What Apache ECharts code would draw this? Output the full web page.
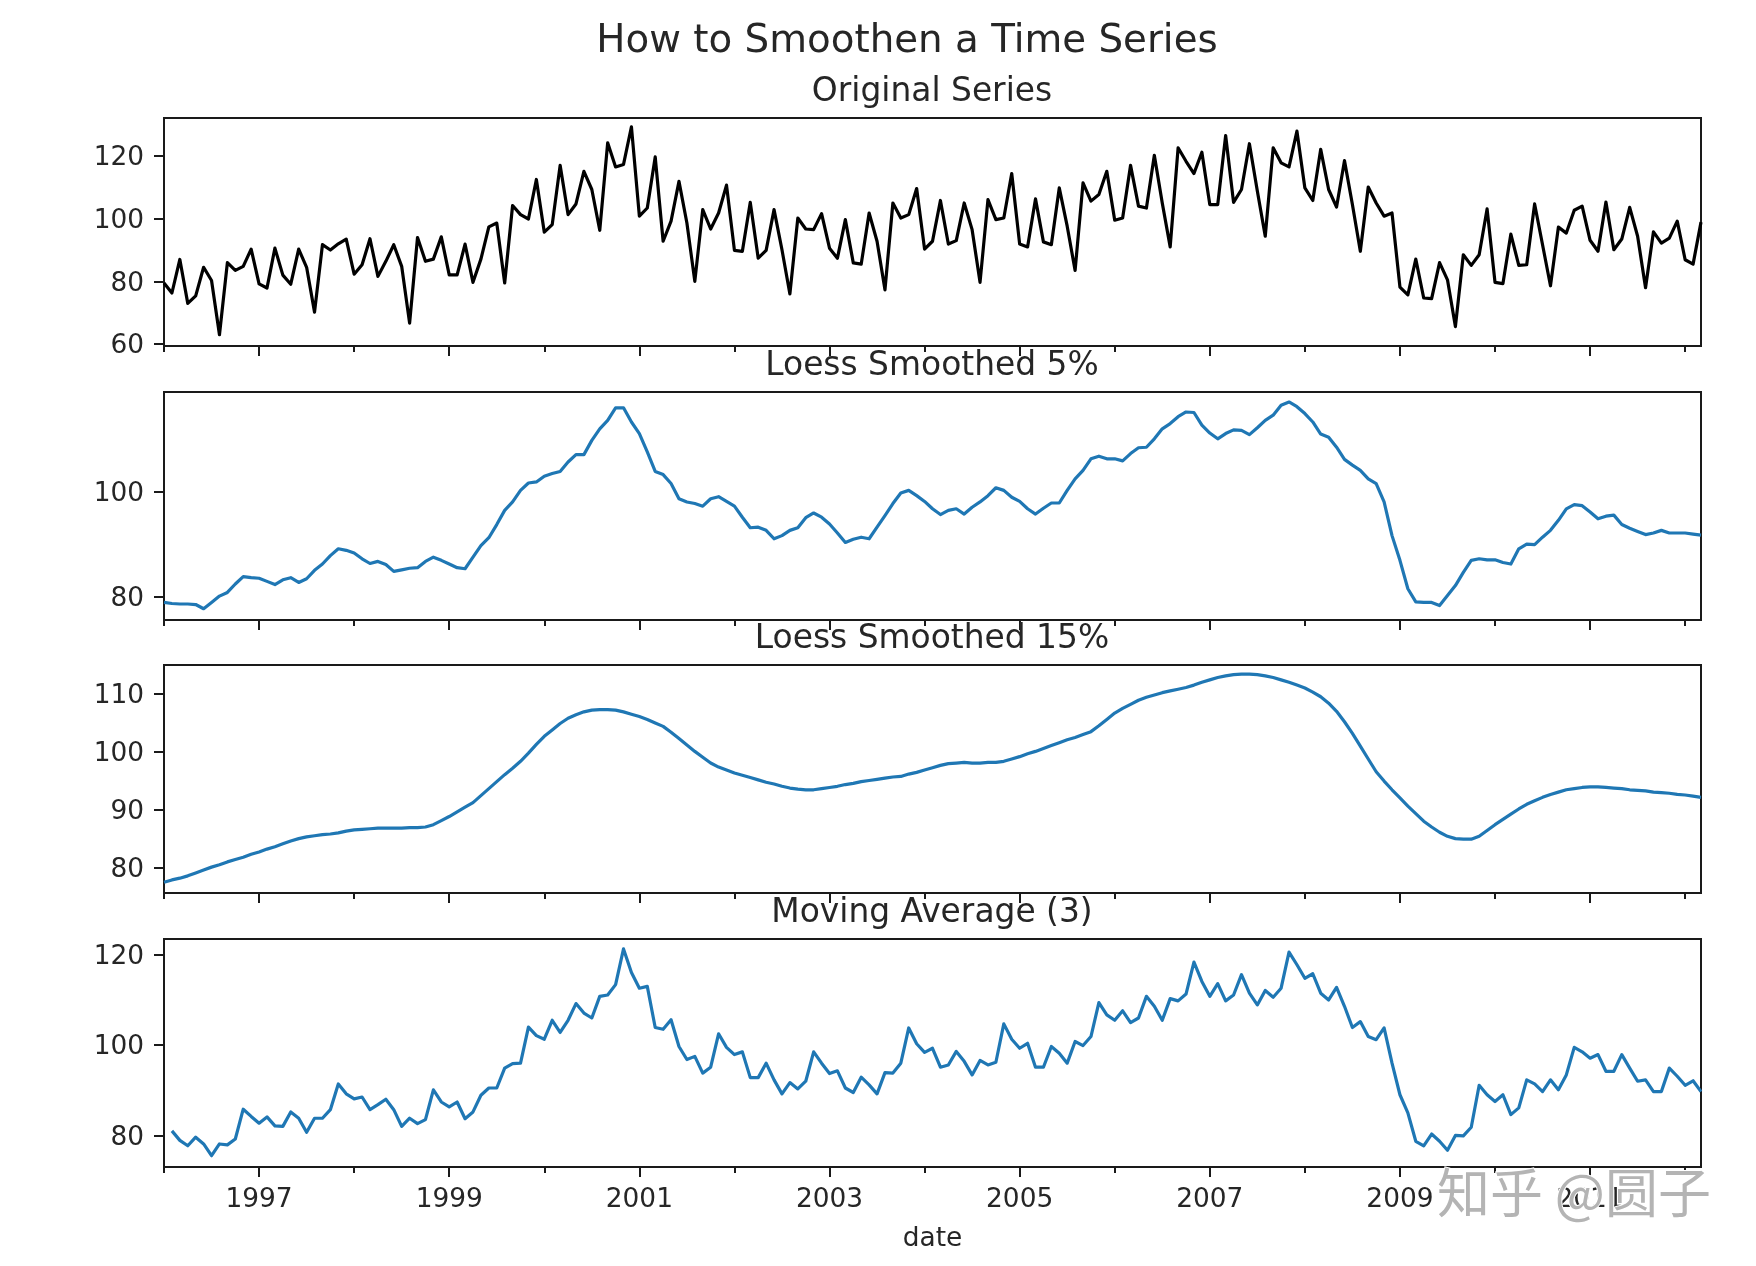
<!DOCTYPE html>
<html>
<head>
<meta charset="utf-8">
<style>
  html, body { margin: 0; padding: 0; background: #fff; }
  #chart { width: 1756px; height: 1266px; }
</style>
<script src="https://cdn.jsdelivr.net/npm/echarts@6/dist/echarts.min.js"></script>
</head>
<body>
<div id="chart"></div>
<script>
// monthly values, one row per year, 1996-01 .. 2012-03
var original = [
  79.5,76.3,87,73,75.4,84.5,80.3,63,86,83.5,84.8,90.3,
  79.2,77.9,90.6,82,79.1,90.3,84.5,70.2,91.7,90,92,93.5,
  82.3,85.3,93.6,81.6,86.4,91.7,84.8,66.7,94,86.4,87.1,94.2,
  82.1,82.1,91.9,79.7,87.1,97.4,98.6,79.5,104.2,101.3,99.9,112.5,
  95.7,98.1,117,101.3,104.7,115.1,109.3,96.3,124.2,116.5,117.3,129.3,
  100.8,103.4,119.7,92.8,99.2,111.9,98.6,80,102.9,96.7,101.8,110.7,
  89.9,89.6,105.2,87.4,89.9,102.9,90.1,76,100.2,96.7,96.5,101.6,
  90.6,87.4,99.7,85.9,85.5,101.8,92.8,77.3,105,100.2,101.3,109.6,
  90.3,92.8,105.8,91.9,93,105,96.5,79.7,106.1,99.7,100.2,114.4,
  91.9,91,106.3,92.6,91.7,109.8,97.6,83.5,111.4,105.6,107.7,115.1,
  99.5,100.2,117,104,103.4,120.2,105,91,122.6,118.3,114.4,121.2,
  104.5,104.5,126.5,105.2,109.3,123.9,108.8,94.4,122.6,117.8,116.5,127.9,
  109.8,105.8,122.1,109.3,103.7,118.5,104.5,89.6,110.1,105,100.8,101.8,
  78.2,75.7,87.1,74.7,74.5,86,80.5,65.6,88.5,85.1,88.5,103.1,
  79.7,79.3,95.1,85.1,85.3,104.7,91.7,78.6,97.3,95.4,102.7,104,
  93.1,89.6,105.3,90.1,93.5,103.6,94.4,78,95.8,92.2,93.8,99.2,
  86.9,85.5,98.9
];
var loess5 = [
  78.9,78.7,78.6,78.6,78.5,77.7,78.9,80.1,80.8,82.4,83.8,83.6,
  83.5,82.9,82.3,83.2,83.6,82.7,83.4,85,86.2,87.8,89.1,88.8,
  88.3,87.2,86.3,86.7,86.1,84.8,85.1,85.4,85.5,86.7,87.5,86.9,
  86.2,85.5,85.3,87.5,89.7,91.2,93.7,96.4,98,100.2,101.6,101.8,
  102.9,103.4,103.8,105.6,107,107,109.7,111.9,113.5,115.9,115.9,113.2,
  111,107.5,103.8,103.2,101.5,98.6,98,97.7,97.2,98.6,99,98.1,
  97.2,95.1,93.1,93.2,92.6,91,91.6,92.6,93.1,95,95.9,95.1,
  93.8,92.1,90.3,90.9,91.3,91,93.2,95.4,97.7,99.7,100.2,99.2,
  98.1,96.7,95.6,96.4,96.7,95.7,97,98,99.2,100.7,100.2,98.9,
  98.1,96.7,95.7,96.8,97.8,97.8,100.2,102.4,104,106.2,106.7,106.2,
  106.2,105.8,107.2,108.3,108.4,110,111.9,112.9,114.2,115.1,115,112.6,
  111.1,110,111,111.7,111.6,110.8,112.1,113.5,114.5,116.4,117,116.1,
  114.8,113.2,110.9,110.3,108.4,106.1,105,104,102.4,101.5,98,91.6,
  86.9,81.5,79,78.9,78.9,78.3,80.2,82.1,84.6,86.9,87.2,87,
  87,86.5,86.2,89.1,90,89.9,91.3,92.6,94.5,96.7,97.5,97.3,
  96.1,94.8,95.3,95.5,93.7,93,92.4,91.8,92.1,92.6,92.1,92.1,
  92.1,91.9,91.7
];
var loess15 = [
  77.5,77.9,78.2,78.6,79.1,79.6,80.1,80.5,81,81.4,81.8,82.3,
  82.7,83.2,83.6,84.1,84.6,85,85.3,85.5,85.7,85.8,86,86.3,
  86.5,86.6,86.7,86.8,86.8,86.8,86.8,86.9,86.9,87,87.4,88.1,
  88.8,89.6,90.4,91.2,92.4,93.6,94.8,96,97.1,98.3,99.7,101.2,
  102.6,103.7,104.8,105.7,106.3,106.8,107.1,107.2,107.2,107.1,106.8,106.4,
  106,105.5,104.9,104.3,103.3,102.2,101.1,100,99,98,97.3,96.8,
  96.3,95.9,95.5,95.1,94.7,94.4,94,93.7,93.5,93.4,93.4,93.6,
  93.8,94,94.3,94.5,94.8,95,95.2,95.4,95.6,95.7,96.1,96.4,
  96.8,97.2,97.6,97.9,98,98.1,98,98,98.1,98.1,98.3,98.7,
  99.1,99.6,100,100.5,101,101.5,102,102.4,102.9,103.4,104.4,105.5,
  106.6,107.4,108.1,108.8,109.3,109.7,110.1,110.4,110.7,111,111.4,111.9,
  112.3,112.7,113,113.2,113.3,113.3,113.2,113,112.7,112.3,111.9,111.4,
  110.9,110.2,109.4,108.3,106.9,105.1,103.1,100.9,98.7,96.5,94.9,93.4,
  92,90.6,89.3,88,87,86.1,85.4,85,84.9,84.9,85.4,86.4,
  87.4,88.3,89.2,90.1,90.9,91.5,92.1,92.6,93,93.4,93.6,93.8,
  93.9,93.9,93.8,93.7,93.6,93.4,93.3,93.2,93,92.9,92.8,92.6,
  92.5,92.3,92.1
];
var movingAvg = [
  null,81,78.9,77.7,79.6,78.1,75.5,78.1,77.9,79.2,85.8,84.2,
  82.7,84.1,82.1,82,85.2,83.8,80.7,83.8,83.8,85.7,91.4,89.2,
  88.1,88.5,85.7,86.8,88,85.7,82,83.8,82.6,83.5,90.1,87.4,
  86.3,87.4,83.7,85.2,88.9,90.5,90.5,94.9,95.9,96,104,102.1,
  101.3,105.5,102.8,105.5,109.2,107.1,106,110.8,111.1,113.4,121.3,116.1,
  112.6,113,103.9,103.5,105.6,99.7,96.8,97.5,93.8,95.1,102.5,99.5,
  97.9,98.5,92.8,92.8,96,92.3,89.2,91.7,90.3,92,98.5,96,
  93.7,94.3,90.5,89.5,92.9,91.2,89.2,93.9,93.8,96,103.8,100.3,
  98.4,99.3,95.1,95.6,98.6,96.4,93.4,96.6,95.6,96.2,104.7,101.3,
  99.3,100.4,95.1,95.1,99.7,98.2,96,100.8,99.9,101.9,109.4,106.7,
  105.5,107.6,105,106,110.8,108.6,105.5,110.3,109.8,111.3,118.4,114.1,
  110.8,113.6,109.8,111.1,115.6,111.5,108.9,112.1,110.6,112.6,120.6,117.8,
  114.8,115.8,111.5,110,112.8,108.6,103.9,105.2,101.9,101.2,103.8,96,
  89,85,78.7,77.7,80.3,78.7,76.7,80,79.9,81.8,91.1,89,
  87.5,89,84.6,86.1,92.3,91.4,89.7,92.3,90.1,93.4,99.5,98.5,
  97.1,97.9,94.2,94.2,97.9,94.9,92,92.3,89.7,89.7,94.9,93.1,
  91.1,92.1,89.7
];

var panelTitles = ['Original Series', 'Loess Smoothed 5%', 'Loess Smoothed 15%', 'Moving Average (3)'];
var yTicks = [[60, 80, 100, 120], [80, 100], [80, 90, 100, 110], [80, 100, 120]];
var yMin = [59.4, 75.56, 75.65, 73];
var yMax = [132.1, 118.9, 114.86, 123.5];
var lineColors = ['#000000', '#1f77b4', '#1f77b4', '#1f77b4'];

var gridTop = [118, 392, 665, 939];
var gridHeight = 228;
var fontName = '"DejaVu Sans"';
var textColor = '#262626';

var months = [];
for (var y = 1996; y <= 2012; y++) {
  for (var mo = 1; mo <= 12; mo++) {
    if (y === 2012 && mo > 3) break;
    months.push(y + '-' + (mo < 10 ? '0' + mo : mo));
  }
}

var chartData = [original, loess5, loess15, movingAvg];

var isJanOdd = function (index, value) {
  return /-01$/.test(value) && parseInt(value, 10) % 2 === 1;
};
var isJanEven = function (index, value) {
  return /-01$/.test(value) && parseInt(value, 10) % 2 === 0;
};

var titles = [{
  text: 'How to Smoothen a Time Series',
  left: 902,
  top: 17,
  textAlign: 'center',
  textStyle: { fontFamily: fontName, fontSize: 38.8, fontWeight: 'normal', color: textColor }
}];
var grids = [], xAxes = [], yAxes = [], seriesList = [];

panelTitles.forEach(function (name, i) {
  var last = i === panelTitles.length - 1;
  titles.push({
    text: name,
    left: 927,
    top: gridTop[i] - 47,
    textAlign: 'center',
    textStyle: { fontFamily: fontName, fontSize: 32.9, fontWeight: 'normal', color: textColor }
  });
  grids.push({
    show: true, left: 164, width: 1537, top: gridTop[i], height: gridHeight,
    borderColor: '#1a1a1a', borderWidth: 2, backgroundColor: 'transparent'
  });
  // major ticks (odd years) with labels
  xAxes.push({
    type: 'category', gridIndex: i, data: months, boundaryGap: false,
    name: last ? 'date' : '', nameLocation: 'middle', nameGap: 59,
    nameTextStyle: { fontFamily: fontName, fontSize: 26.4, color: textColor },
    axisLine: { show: false },
    axisTick: { show: true, interval: isJanOdd, length: 10, lineStyle: { color: '#1a1a1a', width: 2 } },
    axisLabel: {
      show: last, interval: isJanOdd, margin: 20, hideOverlap: false,
      fontFamily: fontName, fontSize: 26.4, color: textColor,
      formatter: function (v) { return v.slice(0, 4); }
    },
    splitLine: { show: false }
  });
  // minor ticks (even years), no labels
  xAxes.push({
    type: 'category', gridIndex: i, data: months, boundaryGap: false, position: 'bottom',
    axisLine: { show: false },
    axisTick: { show: true, interval: isJanEven, length: 6, lineStyle: { color: '#1a1a1a', width: 2 } },
    axisLabel: { show: false },
    splitLine: { show: false }
  });
  yAxes.push({
    type: 'value', gridIndex: i, min: yMin[i], max: yMax[i],
    axisLine: { show: false },
    axisTick: { show: true, length: 10, customValues: yTicks[i], lineStyle: { color: '#1a1a1a', width: 2 } },
    axisLabel: {
      customValues: yTicks[i], margin: 20, showMinLabel: true, showMaxLabel: true,
      formatter: '{t|{value}}',
      rich: { t: { padding: [5, 0, 0, 0], fontFamily: fontName, fontSize: 26.4, color: textColor } }
    },
    splitLine: { show: false }
  });
  seriesList.push({
    type: 'line',
    name: name,
    xAxisIndex: i * 2,
    yAxisIndex: i,
    data: chartData[i],
    showSymbol: false,
    lineStyle: { color: lineColors[i], width: 3.2, join: 'round' }
  });
});

var myChart = echarts.init(document.getElementById('chart'));
myChart.setOption({
  animation: false,
  backgroundColor: '#ffffff',
  title: titles,
  grid: grids,
  xAxis: xAxes,
  yAxis: yAxes,
  series: seriesList,
  graphic: [{
    type: 'text',
    left: 1436,
    top: 1165,
    z: 100,
    style: {
      text: '知乎 @圆子',
      fontFamily: '"Noto Sans CJK SC"',
      fontSize: 53,
      fill: '#b4b4b4',
      stroke: '#ffffff',
      lineWidth: 2
    }
  }]
});
</script>
</body>
</html>
